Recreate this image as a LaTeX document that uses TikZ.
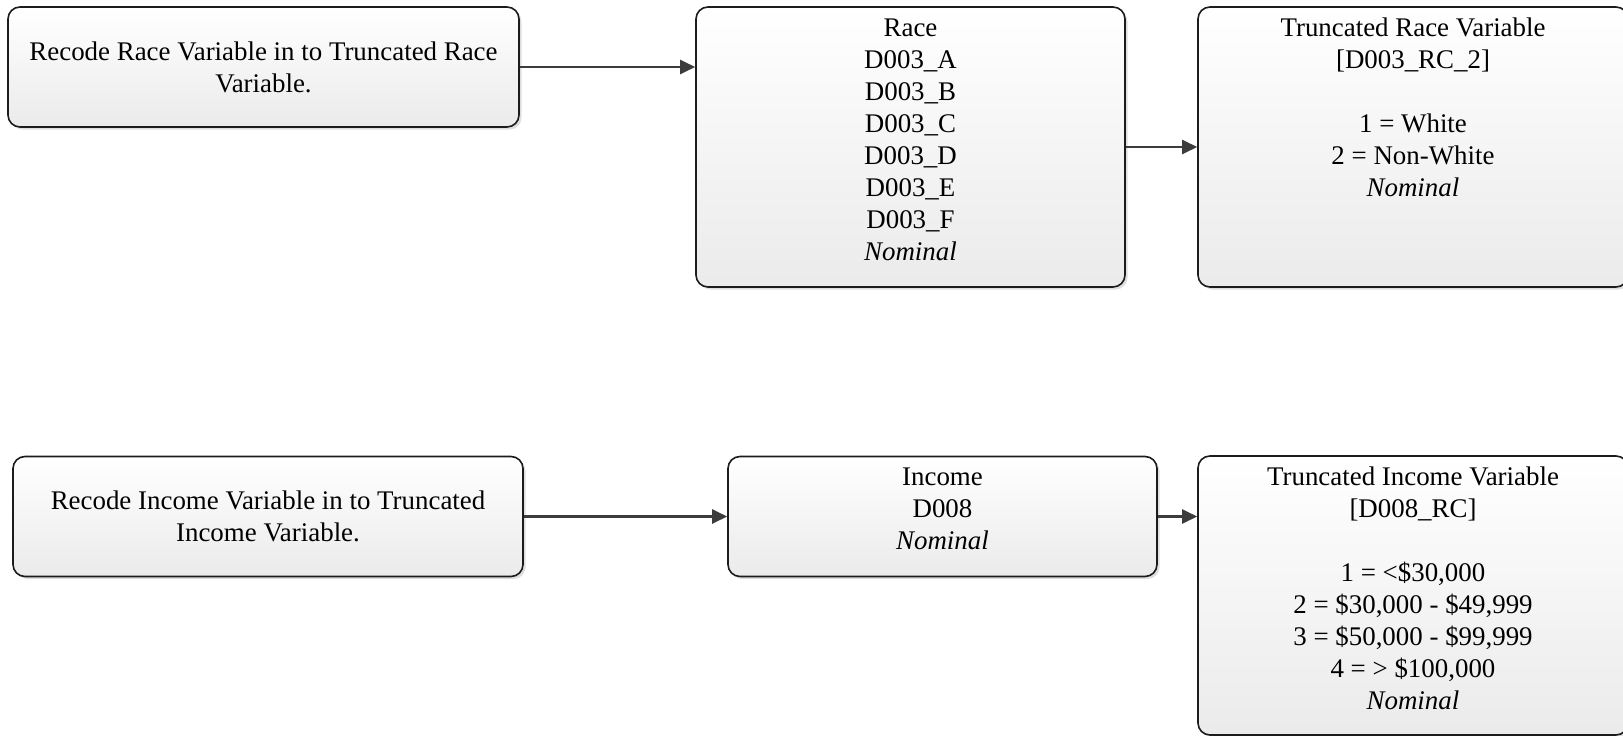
\documentclass[tikz,border=0pt]{standalone}
\usepackage{fontspec}
\setmainfont{Liberation Serif}
\usetikzlibrary{arrows.meta,shadows}

\definecolor{edgecol}{HTML}{1C1C1C}
\definecolor{arrowcol}{HTML}{3C3C3C}

\tikzset{
  card/.style={
    draw=edgecol, line width=1.6pt, rounded corners=12pt,
    top color=white, bottom color=black!8,
    drop shadow={shadow xshift=2.5pt, shadow yshift=-2.5pt, fill=black, opacity=0.13},
    inner sep=0pt, align=center
  },
  cardtext/.style={anchor=north, inner sep=0pt, align=center, yshift=-7.6pt},
  flow/.style={draw=arrowcol, line width=2.2pt,
    -{Triangle[length=15pt, width=14pt]}}
}

\begin{document}
\begin{tikzpicture}[x=1pt, y=-1pt,
  every node/.style={font=\fontsize{26.9}{32}\selectfont, text=black}]
\useasboundingbox (0,0) rectangle (1623,736);

% race recoding row
\node[card, minimum width=511pt, minimum height=120pt] (recrace) at (263.5,67)
  {Recode Race Variable in to Truncated Race\\Variable.};
\node[card, minimum width=429pt, minimum height=280pt] (race) at (910.5,147) {};
\node[cardtext] (racetxt) at (race.north)
  {\strut Race\\D003\_A\\D003\_B\\D003\_C\\D003\_D\\D003\_E\\D003\_F\\\textit{Nominal}};
\node[card, minimum width=430pt, minimum height=280pt] (truncrace) at (1413,147) {};
\node[cardtext] (truncracetxt) at (truncrace.north)
  {\strut Truncated Race Variable\\{}[D003\_RC\_2]\\[32pt]1 = White\\2 = Non-White\\\textit{Nominal}};

% income recoding row
\node[card, minimum width=510pt, minimum height=120pt] (recinc) at (268,516.5)
  {Recode Income Variable in to Truncated\\Income Variable.};
\node[card, minimum width=429pt, minimum height=120pt] (income) at (942.5,516.5) {};
\node[cardtext] (incometxt) at (income.north)
  {\strut Income\\D008\\\textit{Nominal}};
\node[card, minimum width=430pt, minimum height=279pt] (truncinc) at (1413,595.5) {};
\node[cardtext] (truncinctxt) at (truncinc.north)
  {\strut Truncated Income Variable\\{}[D008\_RC]\\[32pt]1 = <\$30,000\\2 = \$30,000 - \$49,999\\3 = \$50,000 - \$99,999\\4 = > \$100,000\\\textit{Nominal}};

% connectors
\draw[flow] (recrace.east) -- (recrace.east -| race.west);
\draw[flow] (race.east) -- (race.east -| truncrace.west);
\draw[flow] (recinc.east) -- (recinc.east -| income.west);
\draw[flow] (income.east) -- (income.east -| truncinc.west);
\end{tikzpicture}
\end{document}
